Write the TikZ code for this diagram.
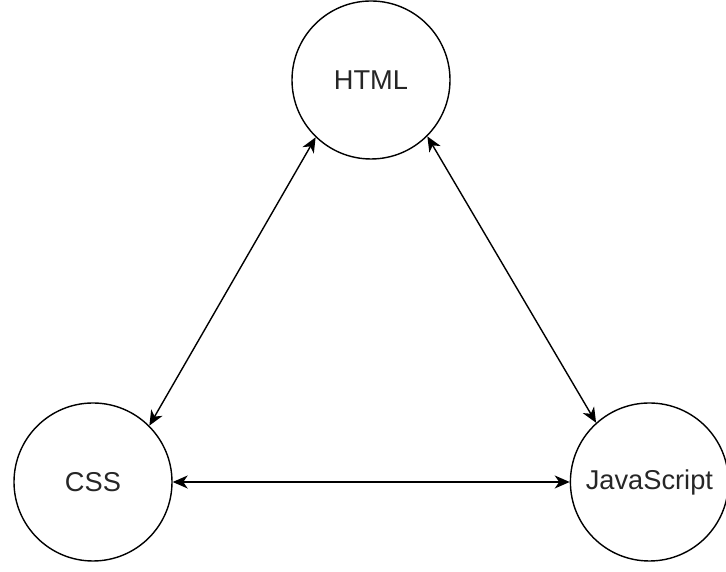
\documentclass[tikz,border=0pt]{standalone}
\usepackage{fontspec}
\setmainfont{Liberation Sans}
\usetikzlibrary{arrows.meta, positioning}

\begin{document}
\begin{tikzpicture}[
  lang/.style={
    circle,
    draw,
    line width=0.8pt,
    minimum size=3.16cm,
    inner sep=0pt,
    align=center,
    text=black!85
  },
  every node/.style={font=\fontsize{15.5}{18}\selectfont},
  arrow/.style={{Stealth[length=0.3cm, width=0.26cm, inset=0.09cm]}-{Stealth[length=0.3cm, width=0.26cm, inset=0.09cm]}, line width=0.8pt}
]

\useasboundingbox (0,0) rectangle (14.52,11.44);

% ------------------------------------------------------------
% Languages
% ------------------------------------------------------------

\node[lang] (css) at (1.86,1.80) {CSS};
\node[lang, right=7.94cm of css] (js) {JavaScript};
\node[lang] (html) at (7.42,9.84) {HTML};

% ------------------------------------------------------------
% Links between them
% ------------------------------------------------------------

\draw[arrow] (html.226) -- (css.45);
\draw[arrow] (html.315) -- (js.132);
\draw[arrow] (css) -- (js);

\end{tikzpicture}
\end{document}
